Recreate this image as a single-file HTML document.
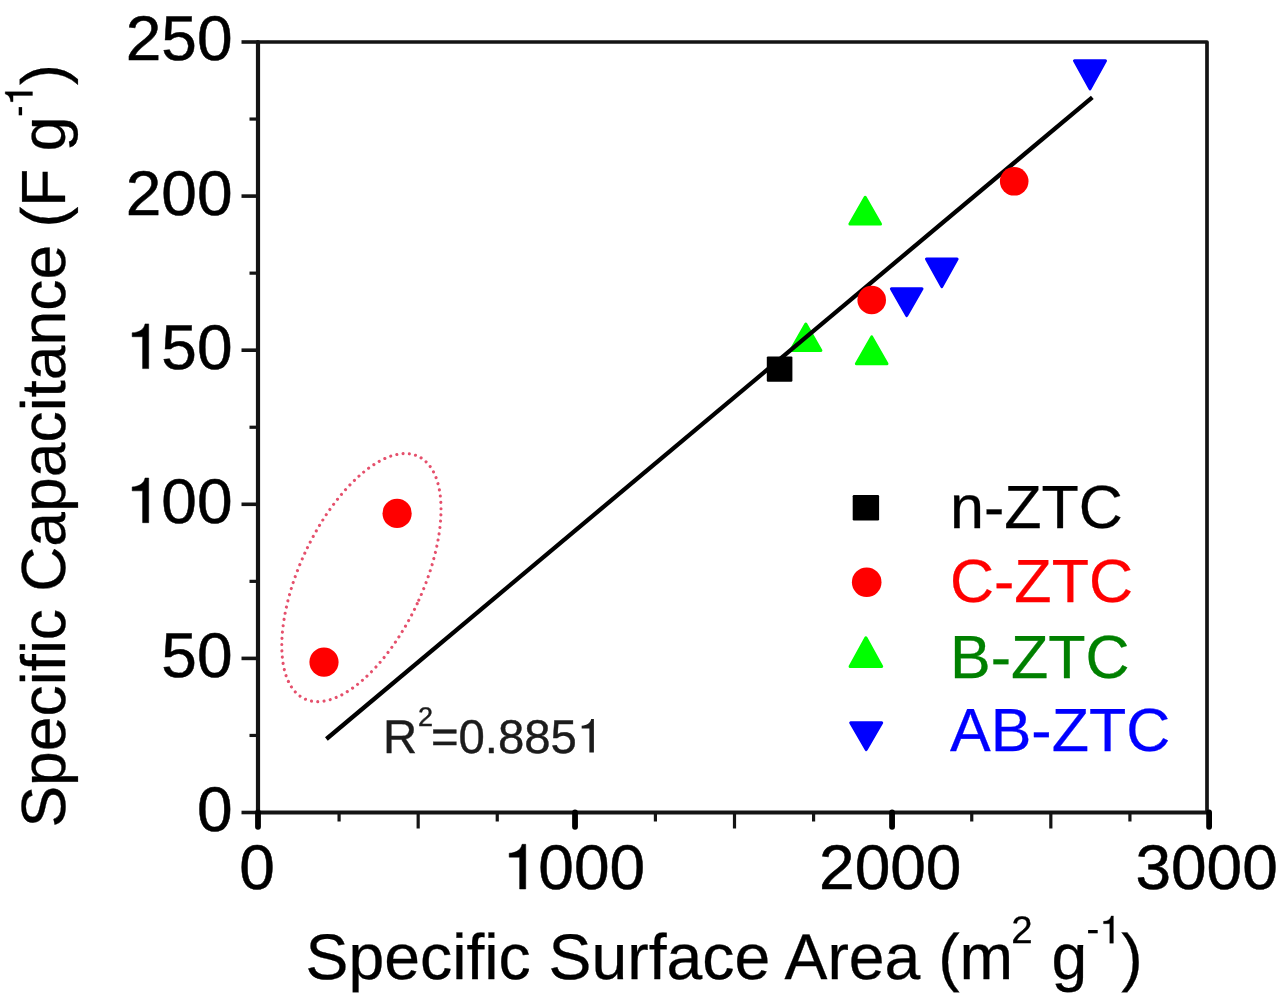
<!DOCTYPE html>
<html><head><meta charset="utf-8"><title>chart</title>
<style>html,body{margin:0;padding:0;background:#fff;}svg{display:block;filter:blur(0.6px);}text{font-family:"Liberation Sans",sans-serif;text-rendering:geometricPrecision;}</style>
</head><body>
<svg width="1280" height="993" viewBox="0 0 1280 993">
<rect x="0" y="0" width="1280" height="993" fill="#fff"/>
<polygon points="805.8,324.1 820.9,350.5 790.7,350.5" fill="#00ff00" stroke="#00ff00" stroke-width="3.0" stroke-linejoin="round"/>
<line x1="326.4" y1="739.0" x2="1092.3" y2="97.3" stroke="#000" stroke-width="4.3"/>
<path d="M258 42 L258 812.5 L1207 812.5" fill="none" stroke="#141414" stroke-width="4.2" stroke-linejoin="round" stroke-linecap="round"/>
<path d="M258 42 L1207 42 L1207 812.5" fill="none" stroke="#141414" stroke-width="3.7" stroke-linejoin="round" stroke-linecap="round"/>
<line x1="241.5" y1="812.50" x2="258" y2="812.50" stroke="#141414" stroke-width="3.6"/>
<line x1="249.5" y1="735.45" x2="258" y2="735.45" stroke="#141414" stroke-width="3.2"/>
<line x1="241.5" y1="658.40" x2="258" y2="658.40" stroke="#141414" stroke-width="3.6"/>
<line x1="249.5" y1="581.35" x2="258" y2="581.35" stroke="#141414" stroke-width="3.2"/>
<line x1="241.5" y1="504.30" x2="258" y2="504.30" stroke="#141414" stroke-width="3.6"/>
<line x1="249.5" y1="427.25" x2="258" y2="427.25" stroke="#141414" stroke-width="3.2"/>
<line x1="241.5" y1="350.20" x2="258" y2="350.20" stroke="#141414" stroke-width="3.6"/>
<line x1="249.5" y1="273.15" x2="258" y2="273.15" stroke="#141414" stroke-width="3.2"/>
<line x1="241.5" y1="196.10" x2="258" y2="196.10" stroke="#141414" stroke-width="3.6"/>
<line x1="249.5" y1="119.05" x2="258" y2="119.05" stroke="#141414" stroke-width="3.2"/>
<line x1="241.5" y1="42.00" x2="258" y2="42.00" stroke="#141414" stroke-width="3.6"/>
<line x1="258.00" y1="812.5" x2="258.00" y2="826.8" stroke="#000" stroke-width="5.8" stroke-linecap="round"/>
<line x1="339.08" y1="812.5" x2="339.08" y2="821.5" stroke="#141414" stroke-width="3.2"/>
<line x1="418.17" y1="812.5" x2="418.17" y2="828.5" stroke="#141414" stroke-width="3.2"/>
<line x1="497.25" y1="812.5" x2="497.25" y2="821.5" stroke="#141414" stroke-width="3.2"/>
<line x1="575.03" y1="812.5" x2="575.03" y2="826.8" stroke="#000" stroke-width="5.8" stroke-linecap="round"/>
<line x1="655.42" y1="812.5" x2="655.42" y2="821.5" stroke="#141414" stroke-width="3.2"/>
<line x1="734.50" y1="812.5" x2="734.50" y2="828.5" stroke="#141414" stroke-width="3.2"/>
<line x1="813.58" y1="812.5" x2="813.58" y2="821.5" stroke="#141414" stroke-width="3.2"/>
<line x1="892.07" y1="812.5" x2="892.07" y2="826.8" stroke="#000" stroke-width="5.8" stroke-linecap="round"/>
<line x1="971.75" y1="812.5" x2="971.75" y2="821.5" stroke="#141414" stroke-width="3.2"/>
<line x1="1050.83" y1="812.5" x2="1050.83" y2="828.5" stroke="#141414" stroke-width="3.2"/>
<line x1="1129.92" y1="812.5" x2="1129.92" y2="821.5" stroke="#141414" stroke-width="3.2"/>
<line x1="1209.10" y1="812.5" x2="1209.10" y2="826.8" stroke="#000" stroke-width="5.8" stroke-linecap="round"/>
<rect x="766.8" y="356.4" width="25.6" height="25.3" rx="1.2" fill="#000"/>
<polygon points="865.2,197.2 880.5,224.1 849.9,224.1" fill="#00ff00" stroke="#00ff00" stroke-width="3.0" stroke-linejoin="round"/>
<polygon points="871.7,336.9 887.0,363.8 856.4,363.8" fill="#00ff00" stroke="#00ff00" stroke-width="3.0" stroke-linejoin="round"/>
<circle cx="871.7" cy="300" r="14.3" fill="#ff0000"/>
<circle cx="1014.2" cy="181.3" r="14.3" fill="#ff0000"/>
<circle cx="397.1" cy="513.4" r="14.6" fill="#ff0000"/>
<circle cx="324" cy="662.1" r="14.6" fill="#ff0000"/>
<polygon points="891.4,288.7 922.0,288.7 906.7,315.6" fill="#0000ff" stroke="#0000ff" stroke-width="3.0" stroke-linejoin="round"/>
<polygon points="926.5,259.0 957.1,259.0 941.8,286.6" fill="#0000ff" stroke="#0000ff" stroke-width="3.0" stroke-linejoin="round"/>
<polygon points="1074.5,60.7 1105.5,60.7 1090.0,88.9" fill="#0000ff" stroke="#0000ff" stroke-width="3.0" stroke-linejoin="round"/>
<ellipse cx="361.4" cy="577.6" rx="61.6" ry="133.9" transform="rotate(25.1 361.4 577.6)" fill="none" stroke="#e5506c" stroke-width="3.1" stroke-linecap="round" stroke-dasharray="0.01 6.3"/>
<rect x="852.7" y="495" width="26.4" height="25.5" rx="1.2" fill="#000"/>
<circle cx="866.7" cy="582.2" r="14.8" fill="#ff0000"/>
<polygon points="865.9,637.7 881.7,666.5 850.1,666.5" fill="#00ff00" stroke="#00ff00" stroke-width="3.0" stroke-linejoin="round"/>
<polygon points="850.7,722.7 881.7,722.7 866.2,749.6" fill="#0000ff" stroke="#0000ff" stroke-width="3.0" stroke-linejoin="round"/>
<text x="950" y="527.5" font-size="61" fill="#000" stroke="#000" stroke-width="0.3">n-ZTC</text>
<text x="950" y="601.5" font-size="61" fill="#ff0000" stroke="#ff0000" stroke-width="0.3">C-ZTC</text>
<text x="950" y="677.5" font-size="61" fill="#008000" stroke="#008000" stroke-width="0.3">B-ZTC</text>
<text x="950" y="751.4" font-size="61" fill="#0000ff" stroke="#0000ff" stroke-width="0.3">AB-ZTC</text>
<text x="382.9" y="752.5" font-size="47.3" fill="#1c1c1c" stroke="#1c1c1c" stroke-width="0.4">R</text>
<text x="418.0" y="726.2" font-size="27" fill="#1c1c1c" stroke="#1c1c1c" stroke-width="0.4">2</text>
<text x="430.9" y="752.5" font-size="47.3" fill="#1c1c1c" stroke="#1c1c1c" stroke-width="0.4">=0.885</text>
<path d="M593.88,752.50 L589.38,752.50 L589.38,728.61 L581.67,728.61 L581.67,725.63 C587.07,725.35 590.33,723.08 591.18,718.96 L593.88,718.96 Z" fill="#1c1c1c" />
<g transform="translate(0 830.90) scale(1 0.985)"><text x="196.91" y="0" font-size="64" fill="#000" stroke="#000" stroke-width="0.5">0</text></g>
<g transform="translate(0 676.80) scale(1 0.985)"><text x="161.31" y="0" font-size="64" fill="#000" stroke="#000" stroke-width="0.5">50</text></g>
<g transform="translate(0 522.70) scale(1 0.985)"><text x="161.31" y="0" font-size="64" fill="#000" stroke="#000" stroke-width="0.5">00</text><path d="M148.69,0.00 L142.61,0.00 L142.61,-32.32 L132.18,-32.32 L132.18,-36.35 C139.48,-36.74 143.89,-39.81 145.05,-45.38 L148.69,-45.38 Z" fill="#000" stroke="#000" stroke-width="0.5"/></g>
<g transform="translate(0 368.60) scale(1 0.985)"><text x="161.31" y="0" font-size="64" fill="#000" stroke="#000" stroke-width="0.5">50</text><path d="M148.69,0.00 L142.61,0.00 L142.61,-32.32 L132.18,-32.32 L132.18,-36.35 C139.48,-36.74 143.89,-39.81 145.05,-45.38 L148.69,-45.38 Z" fill="#000" stroke="#000" stroke-width="0.5"/></g>
<g transform="translate(0 214.50) scale(1 0.985)"><text x="125.72" y="0" font-size="64" fill="#000" stroke="#000" stroke-width="0.5">200</text></g>
<g transform="translate(0 60.40) scale(1 0.985)"><text x="125.72" y="0" font-size="64" fill="#000" stroke="#000" stroke-width="0.5">250</text></g>
<g transform="translate(0 889.00) scale(1 0.985)"><text x="239.30" y="0" font-size="64" fill="#000" stroke="#000" stroke-width="0.5">0</text></g>
<g transform="translate(0 889.00) scale(1 0.985)"><text x="538.34" y="0" font-size="64" fill="#000" stroke="#000" stroke-width="0.5">000</text><path d="M525.72,0.00 L519.64,0.00 L519.64,-32.32 L509.21,-32.32 L509.21,-36.35 C516.51,-36.74 520.92,-39.81 522.07,-45.38 L525.72,-45.38 Z" fill="#000" stroke="#000" stroke-width="0.5"/></g>
<g transform="translate(0 889.00) scale(1 0.985)"><text x="819.08" y="0" font-size="64" fill="#000" stroke="#000" stroke-width="0.5">2000</text></g>
<g transform="translate(0 889.00) scale(1 0.985)"><text x="1135.41" y="0" font-size="64" fill="#000" stroke="#000" stroke-width="0.5">3000</text></g>
<text x="305.6" y="979" font-size="64.3" fill="#000" stroke="#000" stroke-width="0.3">Specific Surface Area (m</text>
<text x="1011.3" y="943.2" font-size="38.5" fill="#000" stroke="#000" stroke-width="0.3">2</text>
<text x="1051.5" y="979" font-size="64.3" fill="#000" stroke="#000" stroke-width="0.3">g</text>
<rect x="1088.1" y="930.0" width="9.6" height="3.3" fill="#000"/>
<path d="M1113.42,943.20 L1109.76,943.20 L1109.76,923.76 L1103.49,923.76 L1103.49,921.33 C1107.88,921.10 1110.53,919.25 1111.23,915.90 L1113.42,915.90 Z" fill="#000" stroke="#000" stroke-width="0.3"/>
<text x="1121.3" y="979" font-size="64.3" fill="#000" stroke="#000" stroke-width="0.3">)</text>
<g transform="translate(65.3 827.5) rotate(-90)">
<text x="0" y="0" font-size="62.4" fill="#000" stroke="#000" stroke-width="0.3">Specific Capacitance (F g</text>
<rect x="712.2" y="-46.6" width="8.2" height="3.4" fill="#000"/>
<path d="M735.72,-32.80 L732.06,-32.80 L732.06,-52.24 L725.79,-52.24 L725.79,-54.67 C730.18,-54.90 732.83,-56.75 733.53,-60.10 L735.72,-60.10 Z" fill="#000" stroke="#000" stroke-width="0.3"/>
<text x="742.4" y="0" font-size="62.4" fill="#000" stroke="#000" stroke-width="0.3">)</text>
</g>
</svg>
</body></html>
